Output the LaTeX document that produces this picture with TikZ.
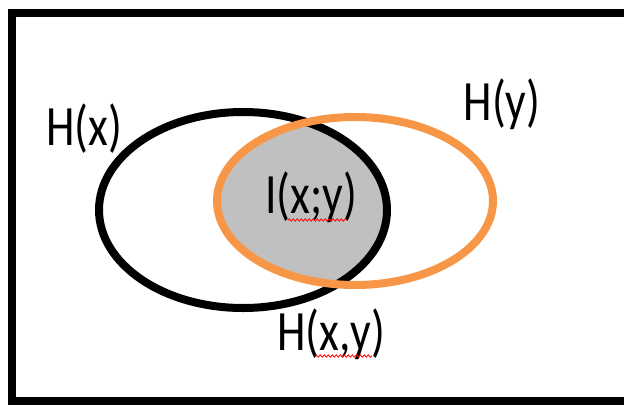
\documentclass[tikz,border=0pt]{standalone}
\usepackage{fontspec}
\usepackage{xcolor}
\usepackage{tikz}
\usetikzlibrary{decorations.pathmorphing}
\newfontfamily\vennfont{Carlito}[FakeStretch=0.8]
\definecolor{vennorange}{HTML}{F79646}
\definecolor{venngray}{HTML}{C0C0C0}
\begin{document}
\begin{tikzpicture}[x=1pt, y=-1pt,
    label text/.style={font=\vennfont\fontsize{57}{60}\selectfont, anchor=base, inner sep=0pt},
    spell mark/.style={red, line width=0.8pt, decorate, decoration={snake, amplitude=1.2pt, segment length=4pt}}]
    \useasboundingbox (0,0) rectangle (624,405);
    \clip (0,0) rectangle (624,405);

    % Outer frame
    \draw[line width=8pt] (12,12.5) rectangle (660,401);

    % Shared part of the two entropies
    \begin{scope}
        \clip (243,210) ellipse [x radius=144, y radius=98];
        \fill[venngray] (355,201) ellipse [x radius=138, y radius=84];
    \end{scope}

    % Entropy ellipses
    \draw[line width=8pt] (243,210) ellipse [x radius=144, y radius=98];
    \draw[line width=8pt, vennorange] (355,201) ellipse [x radius=138, y radius=84];

    % Labels
    \node[label text] (hx)  at (84,145)  {H(x)};
    \node[label text] (hy)  at (502,120) {H(y)};
    \node[label text] (ixy) at (311,213) {I(x;y)};
    \node[label text] (hxy) at (331,350) {H(x,y)};

    % Spell-check underlines
    \draw[spell mark] (288,220) -- (347,220);
    \draw[spell mark] (315,356) -- (372,356);
\end{tikzpicture}
\end{document}
